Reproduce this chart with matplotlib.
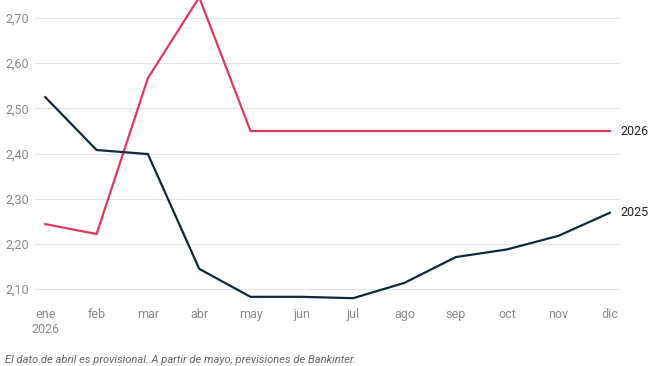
import matplotlib
matplotlib.use("Agg")
import matplotlib.pyplot as plt

months = ["ene", "feb", "mar", "abr", "may", "jun", "jul", "ago", "sep", "oct", "nov", "dic"]
tick_labels = ["ene\n2026"] + months[1:]
y2025 = [2.525, 2.408, 2.399, 2.145, 2.083, 2.083, 2.080, 2.114, 2.171, 2.188, 2.218, 2.269]
y2026 = [2.244, 2.222, 2.567, 2.746, 2.45, 2.45, 2.45, 2.45, 2.45, 2.45, 2.45, 2.45]
yticks = [2.10, 2.20, 2.30, 2.40, 2.50, 2.60, 2.70]

plt.rcParams["font.family"] = ["Roboto", "DejaVu Sans"]
fig = plt.figure(figsize=(6.71, 3.66), dpi=100)
ax = fig.add_axes([35 / 671, 66 / 366, 585 / 671, 300 / 366])

x = list(range(len(months)))
ax.plot(x, y2026, color="#e0385c", lw=1.6, clip_on=False)
ax.plot(x, y2025, color="#0e2a3b", lw=1.6, clip_on=False)
ax.text(x[-1] + 0.2, y2026[-1], "2026", va="center", ha="left", fontsize=9, color="#222222")
ax.text(x[-1] + 0.2, y2025[-1], "2025", va="center", ha="left", fontsize=9, color="#222222")

ax.set_xlim(-0.2, 11.2)
ax.set_ylim(2.076, 2.74)
ax.set_yticks(yticks)
ax.set_yticklabels([f"{v:.2f}".replace(".", ",") for v in yticks])
ax.set_xticks(x)
ax.set_xticklabels(tick_labels, va="top")
ax.tick_params(length=0, colors="#8a8a8a", labelsize=9)
ax.tick_params(axis="y", pad=4)
ax.tick_params(axis="x", pad=6)
ax.grid(axis="y", color="#e3e3e3", lw=0.8)
ax.set_axisbelow(True)
for s in ax.spines.values():
    s.set_visible(False)

fig.text(5 / 671, 1 - 360 / 366, "El dato de abril es provisional. A partir de mayo, previsiones de Bankinter.",
         fontsize=8, style="italic", color="#666666", va="center", ha="left")

fig.savefig("out.png", dpi=100)
